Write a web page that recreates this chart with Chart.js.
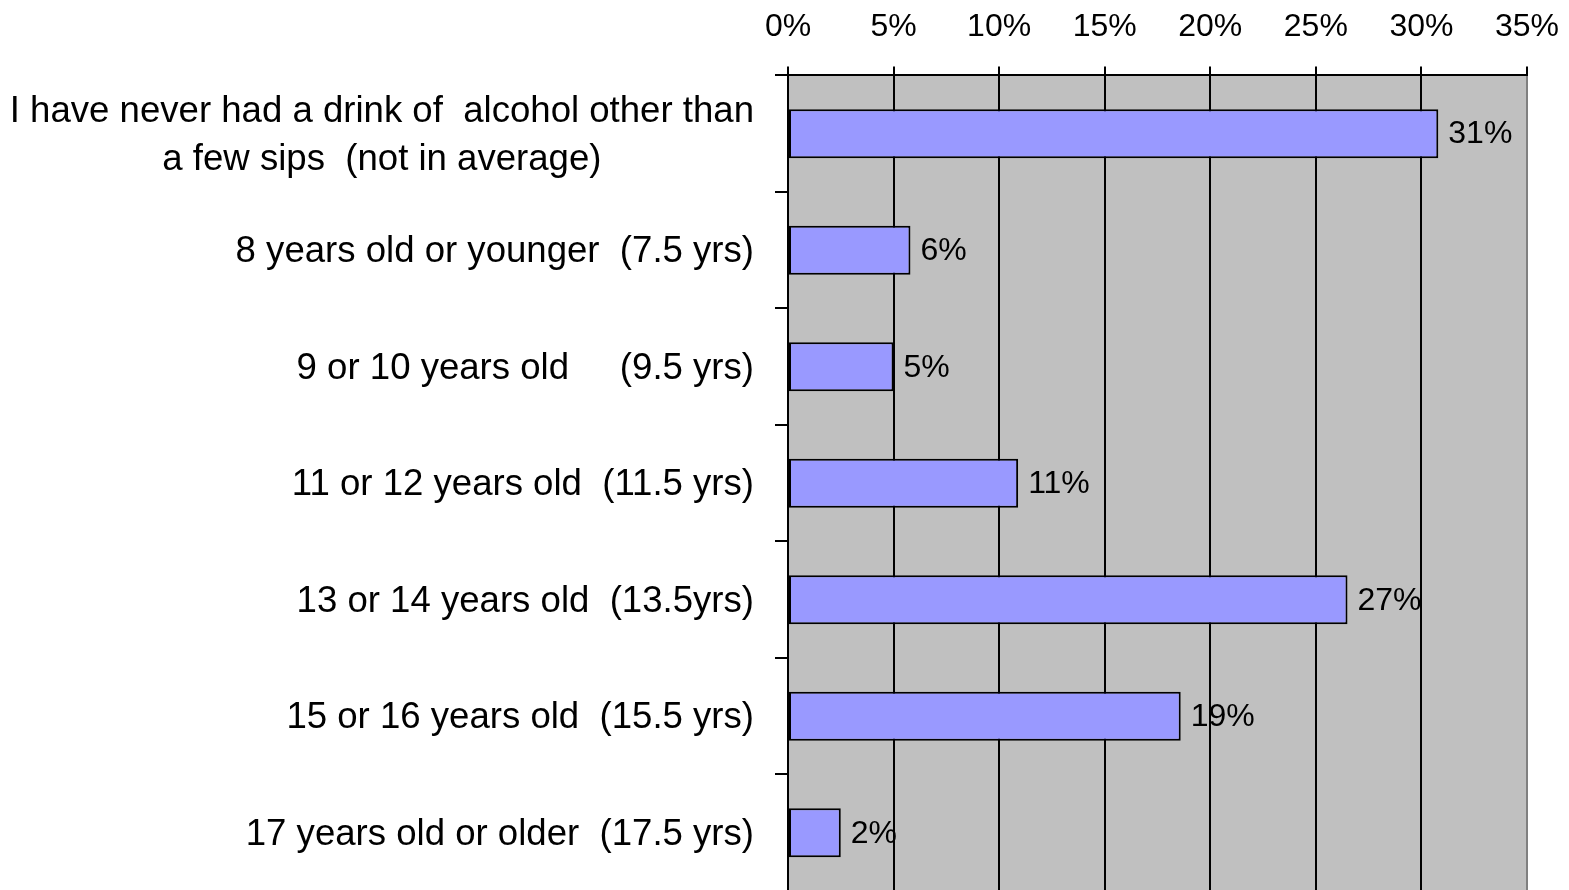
<!DOCTYPE html>
<html>
<head>
<meta charset="utf-8">
<title>Age at first drink</title>
<script src="https://cdn.jsdelivr.net/npm/chart.js"></script>
<style>
html, body { margin: 0; padding: 0; background: #fff; overflow: hidden; }
#wrap { position: relative; width: 1579px; height: 900px; }
</style>
</head>
<body>
<div id="wrap"><canvas id="myChart"></canvas></div>
<script>
// data
var categories = [
    ["I have never had a drink of  alcohol other than", "a few sips  (not in average)"],
    "8 years old or younger  (7.5 yrs)",
    "9 or 10 years old     (9.5 yrs)",
    "11 or 12 years old  (11.5 yrs)",
    "13 or 14 years old  (13.5yrs)",
    "15 or 16 years old  (15.5 yrs)",
    "17 years old or older  (17.5 yrs)"
];
var percentValues = [30.8, 5.8, 5.0, 10.9, 26.5, 18.6, 2.5];
var valueLabels = ["31%", "6%", "5%", "11%", "27%", "19%", "2%"];
var axisMin = 0;
var axisMax = 35;
var axisStep = 5;

var fontFamily = '"Liberation Sans", Arial, sans-serif';

// grey plot area
var plotBackground = {
    id: 'plotBackground',
    beforeDraw: function(chart){
        var area = chart.chartArea, ctx = chart.ctx;
        ctx.save();
        ctx.fillStyle = '#C0C0C0';
        ctx.fillRect(area.left, area.top, area.right - area.left, area.bottom - area.top);
        ctx.restore();
    }
};

// category labels: right aligned, the two line one centred on itself
var categoryLabels = {
    id: 'categoryLabels',
    afterDraw: function(chart){
        var ctx = chart.ctx, yScale = chart.scales.y;
        var x = yScale.right - 13 - 21;
        ctx.save();
        ctx.font = '36.6px ' + fontFamily;
        ctx.fillStyle = '#000';
        ctx.textBaseline = 'middle';
        categories.forEach(function(label, i){
            var y = yScale.getPixelForValue(i) + 2;
            if (Array.isArray(label)) {
                var widest = Math.max.apply(null, label.map(function(t){ return ctx.measureText(t).width; }));
                ctx.textAlign = 'center';
                label.forEach(function(line, k){
                    ctx.fillText(line, x - widest / 2, y + (k - (label.length - 1) / 2) * 48);
                });
            } else {
                ctx.textAlign = 'right';
                ctx.fillText(label, x, y);
            }
        });
        ctx.restore();
    }
};

// value labels at the end of each bar
var barValueLabels = {
    id: 'barValueLabels',
    afterDatasetsDraw: function(chart){
        var ctx = chart.ctx;
        var bars = chart.getDatasetMeta(0).data;
        ctx.save();
        ctx.font = '32px ' + fontFamily;
        ctx.fillStyle = '#000';
        ctx.textAlign = 'left';
        ctx.textBaseline = 'middle';
        bars.forEach(function(bar, i){
            ctx.fillText(valueLabels[i], bar.x + 10, bar.y + 1);
        });
        ctx.restore();
    }
};

var ctx1 = document.getElementById('myChart');
var mChart = new Chart(ctx1, {
    type: 'bar',
    data: {
        labels: categories,
        datasets: [{
            data: percentValues,
            backgroundColor: '#9999FF',
            borderColor: '#000000',
            borderWidth: 2,
            borderSkipped: false,
            barPercentage: 0.42,
            categoryPercentage: 1
        }]
    },
    options: {
        indexAxis: 'y',
        responsive: true,
        maintainAspectRatio: false,
        animation: false,
        layout: {
            padding: { left: 0, right: 44, top: -12, bottom: 9 }
        },
        plugins: {
            legend: { display: false },
            tooltip: { enabled: false }
        },
        scales: {
            x: {
                position: 'top',
                min: axisMin,
                max: axisMax,
                ticks: {
                    stepSize: axisStep,
                    padding: 20,
                    color: '#000',
                    font: { family: fontFamily, size: 32 },
                    callback: function(v){ return v + '%'; }
                },
                grid: {
                    color: function(c){ return c.tick && c.tick.value === axisMax ? '#808080' : '#000'; },
                    tickColor: '#000',
                    lineWidth: 2,
                    tickLength: 9
                },
                border: { display: true, color: '#000', width: 2 }
            },
            y: {
                offset: true,
                ticks: { display: false },
                grid: {
                    offset: true,
                    drawOnChartArea: false,
                    color: '#000',
                    lineWidth: 2,
                    tickLength: 13
                },
                border: { display: true, color: '#000', width: 2 },
                afterFit: function(scale){ scale.width = 788; }
            }
        }
    },
    plugins: [plotBackground, categoryLabels, barValueLabels]
});
</script>
</body>
</html>
